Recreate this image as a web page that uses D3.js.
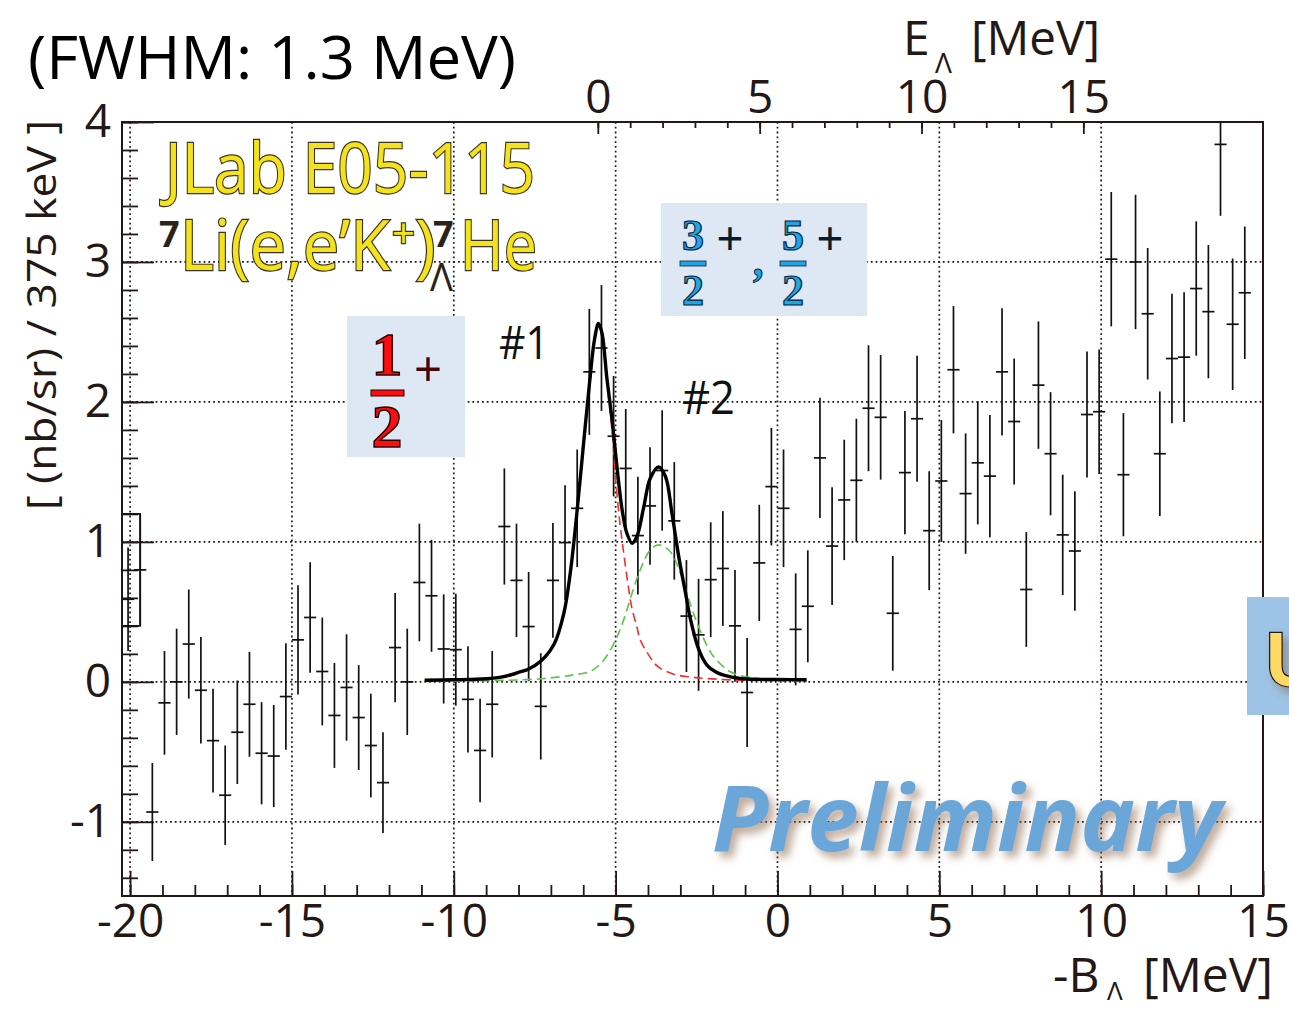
<!DOCTYPE html>
<html>
<head>
<meta charset="utf-8">
<script src="https://cdn.jsdelivr.net/npm/d3@7"></script>
<style>
  body { margin: 0; background: #ffffff; }
  svg { display: block; }
</style>
</head>
<body>
<svg id="chart" width="1289" height="1009"></svg>
<script>
// Histogram binning: 375 keV bins covering the -B_Lambda range
const binLow = -20.25;
const binWidth = 0.375;

// Cross section per bin [(nb/sr)/375 keV] and statistical errors
const counts = [
  0.59, 0.80, -0.93, -0.15, 0.00, 0.27, -0.06, -0.42, -0.81, -0.36,
  -0.16, -0.51, -0.53, -0.105, 0.30, 0.46, 0.074, -0.24, -0.04, -0.255,
  -0.455, -0.72, 0.245, 0.00, 0.71, 0.615, 0.235, 0.23, -0.125, -0.49,
  -0.16, 1.11, 0.725, 0.395, -0.175, 0.725, 0.995, 1.24, 2.215, 2.385,
  1.755, 1.525, 1.045, 1.257, 1.51, 1.15, 0.47, 0.336, 0.73, 0.81,
  0.40, -0.076, 0.85, 1.395, 1.24, 0.375, 0.54, 1.60, 0.97, 1.30,
  1.44, 1.955, 1.89, 0.49, 1.495, 1.88, 1.08, 1.435, 2.23, 1.345,
  1.565, 1.47, 2.215, 1.86, 0.66, 2.12, 1.63, 1.05, 0.935, 1.91,
  1.93, 3.02, 1.48, 3.00, 2.63, 1.63, 2.31, 2.32, 2.81, 2.645,
  3.84, 2.555, 2.78, null
];
const errors = [
  0.37, 0.40, 0.35, 0.37, 0.38, 0.39, 0.38, 0.37, 0.355, 0.37,
  0.375, 0.365, 0.365, 0.38, 0.39, 0.395, 0.385, 0.375, 0.38, 0.375,
  0.37, 0.36, 0.39, 0.38, 0.42, 0.40, 0.39, 0.40, 0.38, 0.37,
  0.38, 0.415, 0.405, 0.39, 0.38, 0.41, 0.41, 0.42, 0.45, 0.45,
  0.43, 0.425, 0.42, 0.42, 0.43, 0.42, 0.40, 0.40, 0.41, 0.41,
  0.40, 0.39, 0.415, 0.42, 0.42, 0.40, 0.40, 0.43, 0.42, 0.43,
  0.44, 0.45, 0.445, 0.41, 0.44, 0.45, 0.425, 0.435, 0.455, 0.43,
  0.44, 0.437, 0.455, 0.45, 0.41, 0.455, 0.44, 0.43, 0.427, 0.45,
  0.445, 0.48, 0.44, 0.48, 0.47, 0.445, 0.463, 0.463, 0.48, 0.476,
  0.51, 0.47, 0.473, null
];

// Fit result: total, state #1 and state #2 components  [-B_Lambda, value]
const fitTotal = [
  [-10.9, 0.012], [-10, 0.015], [-9, 0.022], [-8.5, 0.035], [-8, 0.068], [-7.7, 0.09],
  [-7.3, 0.15], [-6.9, 0.27], [-6.6, 0.49], [-6.4, 0.78], [-6.2, 1.2], [-6.0, 1.68],
  [-5.8, 2.15], [-5.65, 2.45], [-5.53, 2.56], [-5.42, 2.49], [-5.27, 2.17], [-5.11, 1.87],
  [-4.96, 1.54], [-4.8, 1.23], [-4.65, 1.06], [-4.49, 0.99], [-4.34, 1.04], [-4.13, 1.25],
  [-3.93, 1.455], [-3.67, 1.535], [-3.46, 1.467], [-3.26, 1.205], [-3.05, 0.895],
  [-2.84, 0.634], [-2.69, 0.45], [-2.43, 0.23], [-2.18, 0.12], [-1.9, 0.07],
  [-1.66, 0.048], [-1.15, 0.024], [-0.5, 0.018], [0, 0.017], [0.9, 0.015]
];
const fitState1 = [
  [-10.9, 0.01], [-9, 0.02], [-8, 0.06], [-7.3, 0.145], [-6.9, 0.265], [-6.6, 0.48],
  [-6.4, 0.77], [-6.2, 1.19], [-6.0, 1.67], [-5.8, 2.13], [-5.65, 2.44], [-5.53, 2.55],
  [-5.42, 2.48], [-5.27, 2.15], [-5.11, 1.8], [-5.0, 1.45], [-4.87, 1.14], [-4.75, 0.92],
  [-4.62, 0.7], [-4.5, 0.53], [-4.34, 0.39], [-4.24, 0.3], [-4.0, 0.2], [-3.7, 0.11],
  [-3.21, 0.055], [-2.7, 0.035], [-2.2, 0.024], [-1.2, 0.012], [0, 0.008], [0.9, 0.006]
];
const fitState2 = [
  [-10.9, 0.003], [-9, 0.008], [-7.3, 0.022], [-6.3, 0.05], [-5.78, 0.075], [-5.37, 0.155],
  [-5.0, 0.3], [-4.75, 0.443], [-4.49, 0.634], [-4.24, 0.8], [-3.93, 0.943], [-3.67, 0.979],
  [-3.31, 0.93], [-3.0, 0.776], [-2.74, 0.59], [-2.5, 0.43], [-2.2, 0.27], [-1.97, 0.18],
  [-1.46, 0.072], [-0.84, 0.031], [0, 0.015], [0.9, 0.01]
];

// Axis ticks
const bottomTicks = [-20, -15, -10, -5, 0, 5, 10, 15];
const leftTicks = [-1, 0, 1, 2, 3, 4];
const topTicks = [0, 5, 10, 15];
const gridX = [-20, -15, -10, -5, 0, 5, 10];
const gridY = [-1, 0, 1, 2, 3];
const eLambdaOffset = 5.55;   // E_Lambda = -B_Lambda + offset

// ---------------------------------------------------------------
const svg = d3.select('#chart');
const X0 = 122, X1 = 1263, Y0 = 122, Y1 = 896;
const ink = '#231815';
const sans = "'Open Sans', 'Noto Sans', 'DejaVu Sans', sans-serif";
const serif = "'Liberation Serif', 'DejaVu Serif', serif";

const x = d3.scaleLinear().domain([-20.25, 15]).range([X0, X1]);
const y = d3.scaleLinear().domain([-1.53, 4]).range([Y1, Y0]);
const xTop = d3.scaleLinear().domain([0, 15])
  .range([x(0 - eLambdaOffset), x(15 - eLambdaOffset)]);

const defs = svg.append('defs');
defs.append('clipPath').attr('id', 'plotArea')
  .append('rect').attr('x', X0).attr('y', Y0).attr('width', X1 - X0).attr('height', Y1 - Y0);

const shadow = defs.append('filter').attr('id', 'softShadow')
  .attr('x', '-10%').attr('y', '-30%').attr('width', '130%').attr('height', '170%');
shadow.append('feGaussianBlur').attr('in', 'SourceAlpha').attr('stdDeviation', 4).attr('result', 'blur');
shadow.append('feOffset').attr('in', 'blur').attr('dx', 5).attr('dy', 6).attr('result', 'off');
shadow.append('feFlood').attr('flood-color', '#8a6446').attr('flood-opacity', 0.55).attr('result', 'col');
shadow.append('feComposite').attr('in', 'col').attr('in2', 'off').attr('operator', 'in').attr('result', 'sh');
const sm = shadow.append('feMerge');
sm.append('feMergeNode').attr('in', 'sh');
sm.append('feMergeNode').attr('in', 'SourceGraphic');

// Grid
const grid = svg.append('g').attr('stroke', ink).attr('stroke-width', 1.7)
  .attr('stroke-dasharray', '1.8,3');
gridX.forEach(v => grid.append('line')
  .attr('x1', x(v)).attr('x2', x(v)).attr('y1', Y0).attr('y2', Y1));
gridY.forEach(v => grid.append('line')
  .attr('x1', X0).attr('x2', X1).attr('y1', y(v)).attr('y2', y(v)));

// Axes
function styleAxis(g) {
  g.select('.domain').remove();
  g.selectAll('line').attr('stroke', ink).attr('stroke-width', 1.8);
  g.selectAll('text').attr('fill', ink).style('font-family', sans).style('font-size', '46px');
}
const fmt = d => String(d);

svg.append('g').attr('transform', `translate(0,${Y1})`)
  .call(d3.axisBottom(x).tickValues(d3.range(-20, 16, 1)).tickSize(-11).tickFormat(''))
  .call(styleAxis);
svg.append('g').attr('transform', `translate(0,${Y1})`)
  .call(d3.axisBottom(x).tickValues(bottomTicks).tickSize(-25).tickPadding(8).tickFormat(fmt))
  .call(styleAxis);

svg.append('g').attr('transform', `translate(${X0},0)`)
  .call(d3.axisLeft(y).tickValues(d3.range(-1.4, 4.01, 0.2)).tickSize(-16).tickFormat(''))
  .call(styleAxis);
svg.append('g').attr('transform', `translate(${X0},0)`)
  .call(d3.axisLeft(y).tickValues(leftTicks).tickSize(-32).tickPadding(11).tickFormat(fmt))
  .call(styleAxis);

svg.append('g').attr('transform', `translate(0,${Y0})`)
  .call(d3.axisTop(xTop).tickValues(d3.range(0, 16, 1)).tickSize(-6).tickFormat(''))
  .call(styleAxis);
svg.append('g').attr('transform', `translate(0,${Y0})`)
  .call(d3.axisTop(xTop).tickValues(topTicks).tickSize(-12).tickPadding(9).tickFormat(fmt))
  .call(styleAxis);

// Histogram points with error bars
const hist = svg.append('g').attr('clip-path', 'url(#plotArea)')
  .attr('stroke', '#111').attr('stroke-width', 1.7).attr('fill', 'none');
counts.forEach((v, i) => {
  if (v === null) return;
  const e = errors[i];
  const lo = binLow + i * binWidth, hi = lo + binWidth, c = lo + binWidth / 2;
  hist.append('line').attr('x1', x(c)).attr('x2', x(c)).attr('y1', y(v - e)).attr('y2', y(v + e));
  hist.append('line').attr('x1', x(lo)).attr('x2', x(hi)).attr('y1', y(v)).attr('y2', y(v));
});
// Outline box on the second bin at the lower edge
hist.append('rect')
  .attr('x', x(binLow)).attr('width', x(binLow + 1.5 * binWidth) - x(binLow))
  .attr('y', y(counts[1] + errors[1])).attr('height', y(counts[1] - errors[1]) - y(counts[1] + errors[1]));

// Fit curves
const line = d3.line().x(d => x(d[0])).y(d => y(d[1])).curve(d3.curveCatmullRom.alpha(0.5));
const fits = svg.append('g').attr('clip-path', 'url(#plotArea)').attr('fill', 'none');
fits.append('path').attr('d', line(fitState2)).attr('stroke', '#5ec24a')
  .attr('stroke-width', 1.6).attr('stroke-dasharray', '9,5');
fits.append('path').attr('d', line(fitState1)).attr('stroke', '#f03030')
  .attr('stroke-width', 1.6).attr('stroke-dasharray', '9,5');
fits.append('path').attr('d', line(fitTotal)).attr('stroke', '#000')
  .attr('stroke-width', 3.4).attr('stroke-linejoin', 'round');

// Frame
svg.append('rect').attr('x', X0).attr('y', Y0).attr('width', X1 - X0).attr('height', Y1 - Y0)
  .attr('fill', 'none').attr('stroke', ink).attr('stroke-width', 2);

// Axis titles
svg.append('text').attr('transform', 'translate(56,315) rotate(-90)')
  .attr('text-anchor', 'middle').attr('fill', ink)
  .style('font-family', sans).style('font-size', '40px')
  .attr('textLength', 390).attr('lengthAdjust', 'spacingAndGlyphs')
  .text('[ (nb/sr) / 375 keV ]');

const topTitle = svg.append('g').attr('fill', ink).style('font-family', sans);
topTitle.append('text').attr('x', 903).attr('y', 55).style('font-size', '48px').text('E');
topTitle.append('text').attr('x', 935).attr('y', 73).style('font-size', '28px').text('Λ');
topTitle.append('text').attr('x', 971).attr('y', 55).style('font-size', '48px')
  .attr('textLength', 129).attr('lengthAdjust', 'spacingAndGlyphs').text('[MeV]');

const botTitle = svg.append('g').attr('fill', ink).style('font-family', sans);
botTitle.append('text').attr('x', 1053).attr('y', 992).style('font-size', '48px').text('-B');
botTitle.append('text').attr('x', 1107).attr('y', 1000).style('font-size', '26px').text('Λ');
botTitle.append('text').attr('x', 1143).attr('y', 992).style('font-size', '48px')
  .attr('textLength', 130).attr('lengthAdjust', 'spacingAndGlyphs').text('[MeV]');

// Resolution note
svg.append('text').attr('x', 28).attr('y', 79).attr('fill', '#000')
  .style('font-family', sans).style('font-size', '60px')
  .attr('textLength', 488).attr('lengthAdjust', 'spacingAndGlyphs')
  .text('(FWHM: 1.3 MeV)');

// Experiment and reaction labels
const yellow = '#f4e21c', outline = '#3a3222', dark = '#2a2418';
function outlined(sel) {
  return sel.attr('fill', yellow).attr('stroke', outline).attr('stroke-width', 2.4)
    .attr('paint-order', 'stroke fill').style('font-family', sans);
}
outlined(svg.append('text').attr('x', 165).attr('y', 193).style('font-size', '70px')
  .attr('textLength', 370).attr('lengthAdjust', 'spacingAndGlyphs')).text('JLab E05-115');
svg.append('text').attr('x', 159).attr('y', 247).attr('fill', dark)
  .style('font-family', sans).style('font-size', '36px').style('font-weight', 'bold').text('7');
outlined(svg.append('text').attr('x', 180).attr('y', 270).style('font-size', '70px')
  .attr('textLength', 210).attr('lengthAdjust', 'spacingAndGlyphs')).text('Li(e,e’K');
outlined(svg.append('text').attr('x', 392).attr('y', 248).style('font-size', '40px')).text('+');
outlined(svg.append('text').attr('x', 415).attr('y', 270).style('font-size', '70px')).text(')');
svg.append('text').attr('x', 433).attr('y', 247).attr('fill', dark)
  .style('font-family', sans).style('font-size', '36px').style('font-weight', 'bold').text('7');
svg.append('text').attr('x', 430).attr('y', 291).attr('fill', dark)
  .style('font-family', sans).style('font-size', '38px').text('Λ');
outlined(svg.append('text').attr('x', 460).attr('y', 270).style('font-size', '70px')
  .attr('textLength', 77).attr('lengthAdjust', 'spacingAndGlyphs')).text('He');

// Peak labels
svg.append('text').attr('x', 499).attr('y', 359).attr('fill', '#111')
  .style('font-family', sans).style('font-size', '46px')
  .attr('textLength', 50).attr('lengthAdjust', 'spacingAndGlyphs').text('#1');
svg.append('text').attr('x', 682).attr('y', 414).attr('fill', '#111')
  .style('font-family', sans).style('font-size', '46px')
  .attr('textLength', 53).attr('lengthAdjust', 'spacingAndGlyphs').text('#2');

// Spin-parity boxes
const boxFill = '#dde8f4';
const jp1 = svg.append('g');
jp1.append('rect').attr('x', 347).attr('y', 316).attr('width', 118).attr('height', 141).attr('fill', boxFill);
const redNum = { fill: '#ff0d0d', stroke: '#2a0000' };
jp1.append('text').attr('x', 387).attr('y', 375).attr('text-anchor', 'middle')
  .attr('fill', redNum.fill).attr('stroke', redNum.stroke).attr('stroke-width', 1.5)
  .style('font-family', serif).style('font-weight', 'bold').style('font-size', '62px').text('1');
jp1.append('rect').attr('x', 371).attr('y', 390).attr('width', 33).attr('height', 6)
  .attr('fill', redNum.fill).attr('stroke', redNum.stroke).attr('stroke-width', 1);
jp1.append('text').attr('x', 387).attr('y', 447).attr('text-anchor', 'middle')
  .attr('fill', redNum.fill).attr('stroke', redNum.stroke).attr('stroke-width', 1.5)
  .style('font-family', serif).style('font-weight', 'bold').style('font-size', '62px').text('2');
jp1.append('text').attr('x', 428).attr('y', 386).attr('text-anchor', 'middle')
  .attr('fill', '#4a0606').style('font-family', serif).style('font-weight', 'bold')
  .style('font-size', '50px').text('+');

const jp2 = svg.append('g');
jp2.append('rect').attr('x', 661).attr('y', 203).attr('width', 206).attr('height', 113).attr('fill', boxFill);
const cyan = { fill: '#1ea6e6', stroke: '#06243a' };
[[693, '3'], [793, '5']].forEach(([cx, num]) => {
  jp2.append('text').attr('x', cx).attr('y', 250).attr('text-anchor', 'middle')
    .attr('fill', cyan.fill).attr('stroke', cyan.stroke).attr('stroke-width', 1.2)
    .style('font-family', serif).style('font-weight', 'bold').style('font-size', '44px').text(num);
  jp2.append('rect').attr('x', cx - 13).attr('y', 261).attr('width', 26).attr('height', 5)
    .attr('fill', cyan.fill).attr('stroke', cyan.stroke).attr('stroke-width', 0.8);
  jp2.append('text').attr('x', cx).attr('y', 305).attr('text-anchor', 'middle')
    .attr('fill', cyan.fill).attr('stroke', cyan.stroke).attr('stroke-width', 1.2)
    .style('font-family', serif).style('font-weight', 'bold').style('font-size', '44px').text('2');
  jp2.append('text').attr('x', cx + 37).attr('y', 255).attr('text-anchor', 'middle')
    .attr('fill', '#0a1b2a').style('font-family', serif).style('font-weight', 'bold')
    .style('font-size', '48px').text('+');
});
jp2.append('text').attr('x', 760).attr('y', 276).attr('text-anchor', 'middle')
  .attr('fill', cyan.fill).attr('stroke', cyan.stroke).attr('stroke-width', 1)
  .style('font-family', serif).style('font-weight', 'bold').style('font-style', 'italic')
  .style('font-size', '44px').text(',');

// Side tab at the right edge
svg.append('rect').attr('x', 1247).attr('y', 597).attr('width', 50).attr('height', 118).attr('fill', '#9dc3e6');
svg.append('text').attr('x', 1264).attr('y', 686).attr('fill', '#ffd966')
  .attr('stroke', '#1a1a1a').attr('stroke-width', 2.6).attr('paint-order', 'stroke fill')
  .attr('filter', 'url(#softShadow)')
  .style('font-family', sans).style('font-weight', 'bold').style('font-size', '74px').text('U');

// Watermark
svg.append('text').attr('x', 712).attr('y', 851).attr('fill', '#6aa6d8')
  .attr('filter', 'url(#softShadow)')
  .style('font-family', sans).style('font-weight', 'bold').style('font-style', 'italic')
  .style('font-size', '92px').attr('textLength', 510).attr('lengthAdjust', 'spacingAndGlyphs')
  .text('Preliminary');
</script>
</body>
</html>
